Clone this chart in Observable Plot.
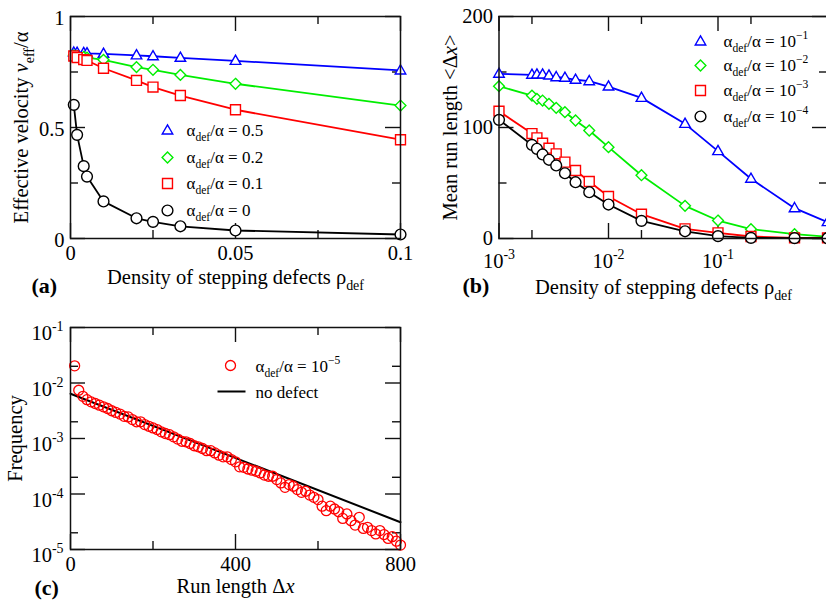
<!DOCTYPE html>
<html>
<head>
<meta charset="utf-8">
<script src="https://cdn.jsdelivr.net/npm/d3@7"></script>
<script src="https://cdn.jsdelivr.net/npm/@observablehq/plot@0.6"></script>
<style>
  html, body { margin: 0; padding: 0; background: #fff; }
  #fig { position: relative; width: 826px; height: 604px; overflow: hidden; background: #fff; }
  #fig svg { position: absolute; }
</style>
</head>
<body>
<div id="fig"></div>
<script>
// ---------------- Panel (a): effective velocity vs defect density ----------------
const rhoA   = [0.001, 0.002, 0.004, 0.005, 0.01, 0.02, 0.025, 0.0333, 0.05, 0.1];
const velA05 = [0.837, 0.836, 0.835, 0.834, 0.832, 0.825, 0.821, 0.814, 0.800, 0.757];
const velA02 = [0.825, 0.822, 0.818, 0.815, 0.805, 0.772, 0.760, 0.737, 0.697, 0.599];
const velA01 = [0.822, 0.815, 0.806, 0.802, 0.767, 0.712, 0.682, 0.644, 0.580, 0.445];
const velA00 = [0.602, 0.467, 0.326, 0.279, 0.167, 0.091, 0.075, 0.055, 0.036, 0.018];
const labelsA = ["α_{def}/α = 0.5", "α_{def}/α = 0.2", "α_{def}/α = 0.1", "α_{def}/α = 0"];
const xTicksA = [0, 0.05, 0.1], xMinorA = [0.025, 0.075];
const yTicksA = [0, 0.5, 1],    yMinorA = [0.25, 0.75];

// ---------------- Panel (b): mean run length vs defect density ----------------
const rhoB   = [0.001, 0.002, 0.00222, 0.0025, 0.00286, 0.00333, 0.004, 0.005, 0.00667, 0.01, 0.02, 0.05, 0.1, 0.2, 0.5, 1];
const lenB1 = [148.4, 147.5, 147.7, 147.7, 146.8, 145.3, 144.8, 143.0, 141.7, 136.9, 126.7, 103.3, 78.7, 53.8, 27.3, 14.7];
const lenB2 = [137.2, 128.8, 125.8, 124.3, 121.3, 117.7, 113.8, 106.3, 97.3, 82.3, 57.0, 29.4, 16.2, 8.4, 3.9, 1.5];
const lenB3 = [114.7, 94.5, 90.7, 85.9, 81.4, 76.3, 68.8, 61.3, 51.4, 37.8, 21.9, 8.7, 5.1, 1.8, 0.5, 0.5];
const lenB4 = [106.9, 84.3, 80.8, 75.7, 70.9, 65.8, 58.8, 50.7, 41.7, 30.6, 15.9, 6.5, 2.1, 0.6, 0.3, 0.2];
const labelsB = ["α_{def}/α = 10^{−1}", "α_{def}/α = 10^{−2}", "α_{def}/α = 10^{−3}", "α_{def}/α = 10^{−4}"];
const xTicksB = [0.001, 0.01, 0.1], xTicksB_all = [0.001, 0.01, 0.1, 1], xMinorB = [0.002, 0.02, 0.2];
const yTicksB = [0, 100, 200], yMinorB = [50, 150];

// ---------------- Panel (c): run length distribution ----------------
const runLen = [10, 20, 30, 40, 50, 60, 70, 80, 90, 100, 110, 120, 130, 140, 150, 160, 170, 180, 190, 200,
  210, 220, 230, 240, 250, 260, 270, 280, 290, 300, 310, 320, 330, 340, 350, 360, 370, 380, 390, 400,
  410, 420, 430, 440, 450, 460, 470, 480, 490, 500, 510, 520, 530, 540, 550, 560, 570, 580, 590, 600,
  610, 620, 630, 640, 650, 660, 670, 680, 690, 700, 710, 720, 730, 740, 750, 760, 770, 780, 790, 800];
const freqC = [2.04e-2, 7.41e-3, 5.75e-3, 5.01e-3, 4.57e-3, 4.27e-3, 3.98e-3, 3.72e-3, 3.47e-3, 3.16e-3,
  2.95e-3, 2.75e-3, 2.51e-3, 2.45e-3, 2.19e-3, 2.00e-3, 2.00e-3, 1.78e-3, 1.66e-3, 1.55e-3,
  1.45e-3, 1.32e-3, 1.23e-3, 1.17e-3, 1.07e-3, 9.77e-4, 8.91e-4, 8.71e-4, 8.13e-4, 7.41e-4,
  7.08e-4, 6.61e-4, 6.03e-4, 6.03e-4, 5.50e-4, 5.01e-4, 4.68e-4, 4.68e-4, 4.17e-4, 3.80e-4,
  3.09e-4, 3.02e-4, 2.82e-4, 2.69e-4, 2.57e-4, 2.40e-4, 2.19e-4, 2.09e-4, 2.09e-4, 1.82e-4,
  1.58e-4, 1.32e-4, 1.48e-4, 1.38e-4, 1.20e-4, 1.07e-4, 1.12e-4, 9.55e-5, 8.71e-5, 7.94e-5,
  6.03e-5, 5.01e-5, 6.03e-5, 5.37e-5, 4.79e-5, 3.63e-5, 4.37e-5, 3.31e-5, 2.75e-5, 3.80e-5,
  2.40e-5, 2.51e-5, 2.19e-5, 1.91e-5, 2.19e-5, 1.86e-5, 1.58e-5, 1.70e-5, 1.41e-5, 1.20e-5];
const noDefX = [0, 800];
const noDefF = [6.4e-3, 3.1e-5];
const labelsC = ["α_{def}/α = 10^{−5}", "no defect"];
const xTicksC = [0, 400, 800], xMinorC = [200, 600];
const yTicksC = [1e-5, 1e-4, 1e-3, 1e-2, 1e-1], yMinorC = [2e-5, 2e-4, 2e-3, 2e-2];

// ---------------- helpers ----------------
const FONT = "'Liberation Serif', 'Times New Roman', serif";
const SVGNS = "http://www.w3.org/2000/svg";
const symTri = {draw(c, size) { const r = Math.sqrt(size / Math.PI); const w = r * 1.95, h = r * 1.7;
  c.moveTo(0, -h * 0.62); c.lineTo(w / 2, h * 0.38); c.lineTo(-w / 2, h * 0.38); c.closePath(); }};
const symDia = {draw(c, size) { const r = Math.sqrt(size / Math.PI);
  c.moveTo(0, -r); c.lineTo(r, 0); c.lineTo(0, r); c.lineTo(-r, 0); c.closePath(); }};
const symSq = {draw(c, size) { const r = Math.sqrt(size / Math.PI) * 0.92; c.rect(-r, -r, 2 * r, 2 * r); }};
const symCirc = {draw(c, size) { const r = Math.sqrt(size / Math.PI); c.moveTo(r, 0); c.arc(0, 0, r, 0, 2 * Math.PI); c.closePath(); }};
const symDash = {draw(c, size) { c.moveTo(-14, 0); c.lineTo(14, 0); }};
const pow10 = d => `10^{${Math.round(Math.log10(d))}}`;

function tickRules(P, xMaj, xMin, yMaj, yMin) {
  const FW = P.w - P.ml - P.mr, FH = P.h - P.mt - P.mb, maj = 15, mn = 8;
  const s = {stroke: "#111", strokeWidth: 1.4};
  return [
    Plot.ruleX(xMaj, {x: d => d, insetTop: FH - maj, ...s}),
    Plot.ruleX(xMaj, {x: d => d, insetBottom: FH - maj, ...s}),
    Plot.ruleX(xMin, {x: d => d, insetTop: FH - mn, ...s}),
    Plot.ruleX(xMin, {x: d => d, insetBottom: FH - mn, ...s}),
    Plot.ruleY(yMaj, {y: d => d, insetRight: FW - maj, ...s}),
    Plot.ruleY(yMaj, {y: d => d, insetLeft: FW - maj, ...s}),
    Plot.ruleY(yMin, {y: d => d, insetRight: FW - mn, ...s}),
    Plot.ruleY(yMin, {y: d => d, insetLeft: FW - mn, ...s})
  ];
}
// position helper: page pixel -> offset from frame's top-left corner
const at = (P, x, y) => ({frameAnchor: "top-left", dx: x - P.left - P.ml, dy: y - P.top - P.mt});
const txt = (P, s, x, y, o = {}) => Plot.text([s], {text: d => d, ...at(P, x, y), lineAnchor: "bottom", fontSize: 20.5, ...o});

// rich text: _{sub}  ^{sup}  ~{italic}
function richText(svg) {
  svg.querySelectorAll("text").forEach(t => {
    const s = t.textContent;
    if (!/[_^~]\{/.test(s)) return;
    const fs = parseFloat(getComputedStyle(t).fontSize) || 20;
    const segs = []; let mode = "n", buf = "";
    for (let i = 0; i < s.length; i++) {
      const c = s[i];
      if ((c === "_" || c === "^" || c === "~") && s[i + 1] === "{") { if (buf) segs.push([mode, buf]); buf = ""; mode = c; i++; continue; }
      if (c === "}" && mode !== "n") { segs.push([mode, buf]); buf = ""; mode = "n"; continue; }
      buf += c;
    }
    if (buf) segs.push([mode, buf]);
    while (t.firstChild) t.removeChild(t.firstChild);
    let cur = 0;
    for (const [m, str] of segs) {
      const sp = document.createElementNS(SVGNS, "tspan");
      const target = m === "_" ? 0.32 * fs : m === "^" ? -0.42 * fs : 0;
      if (target !== cur) sp.setAttribute("dy", (target - cur).toFixed(2));
      cur = target;
      if (m === "_" || m === "^") sp.setAttribute("font-size", (0.68 * fs).toFixed(2));
      if (m === "~") sp.setAttribute("font-style", "italic");
      sp.textContent = str;
      t.appendChild(sp);
    }
  });
}
const fig = document.getElementById("fig");
function place(svg, P) {
  svg.style.left = P.left + "px"; svg.style.top = P.top + "px";
  fig.appendChild(svg);
  richText(svg);
}
const baseStyle = {fontFamily: FONT, background: "transparent", overflow: "visible", color: "#000"};

// ---------------- build (a) ----------------
{
  const P = {left: 0, top: 0, w: 410, h: 300, ml: 70, mr: 10, mt: 16, mb: 62};
  const series = [
    {v: velA05, c: "#0000ff", s: symTri}, {v: velA02, c: "#00ee00", s: symDia},
    {v: velA01, c: "#ff0000", s: symSq},  {v: velA00, c: "#000000", s: symCirc}
  ];
  const marks = [...tickRules(P, xTicksA, xMinorA, yTicksA, yMinorA)];
  series.forEach(sr => {
    marks.push(Plot.line(rhoA, {x: d => d, y: sr.v, stroke: sr.c, strokeWidth: 1.8}));
    marks.push(Plot.dot(rhoA, {x: d => d, y: sr.v, symbol: sr.s, r: 5.4, stroke: sr.c, strokeWidth: 1.4, fill: "white"}));
  });
  const legY = [130, 157, 183, 210];
  series.forEach((sr, i) => {
    marks.push(Plot.dot([0], {...at(P, 167, legY[i]), symbol: sr.s, r: 5.4, stroke: sr.c, strokeWidth: 1.4, fill: "white"}));
    marks.push(txt(P, labelsA[i], 186, legY[i] + 5, {fontSize: 17, textAnchor: "start"}));
  });
  marks.push(
    Plot.frame({stroke: "#111", strokeWidth: 1.5}),
    Plot.axisX({ticks: xTicksA, tickSize: 0, tickPadding: 7, fontSize: 20.5, tickFormat: d => String(d), label: null}),
    Plot.axisY({ticks: yTicksA, tickSize: 0, tickPadding: 6, fontSize: 20.5, tickFormat: d => String(d), label: null, dy: 2}),
    txt(P, "Density of stepping defects ρ_{def}", 235, 283, {textAnchor: "middle"}),
    txt(P, "Effective velocity ~{v}_{eff}/α", 27, 127, {textAnchor: "middle", rotate: -90}),
    txt(P, "(a)", 31, 292, {textAnchor: "start", fontSize: 22, fontWeight: "bold"})
  );
  const svg = Plot.plot({width: P.w, height: P.h, marginLeft: P.ml, marginRight: P.mr, marginTop: P.mt, marginBottom: P.mb,
    x: {domain: [0, 0.1]}, y: {domain: [0, 1]}, style: baseStyle, marks});
  place(svg, P);
}

// ---------------- build (b) ----------------
{
  const P = {left: 410, top: 0, w: 430, h: 300, ml: 88.5, mr: 13, mt: 16, mb: 62};
  const series = [
    {v: lenB1, c: "#0000ff", s: symTri}, {v: lenB2, c: "#00ee00", s: symDia},
    {v: lenB3, c: "#ff0000", s: symSq},  {v: lenB4, c: "#000000", s: symCirc}
  ];
  const marks = [...tickRules(P, xTicksB_all, xMinorB, yTicksB, yMinorB)];
  series.forEach(sr => {
    marks.push(Plot.line(rhoB, {x: d => d, y: sr.v, stroke: sr.c, strokeWidth: 1.8}));
    marks.push(Plot.dot(rhoB, {x: d => d, y: sr.v, symbol: sr.s, r: 5.4, stroke: sr.c, strokeWidth: 1.4, fill: "white"}));
  });
  const legY = [41, 65, 90, 116];
  series.forEach((sr, i) => {
    marks.push(Plot.dot([0], {...at(P, 700, legY[i]), symbol: sr.s, r: 5.4, stroke: sr.c, strokeWidth: 1.4, fill: "white"}));
    marks.push(txt(P, labelsB[i], 723, legY[i] + 5, {fontSize: 17, textAnchor: "start"}));
  });
  marks.push(
    Plot.frame({stroke: "#111", strokeWidth: 1.5}),
    Plot.axisX({ticks: xTicksB, tickSize: 0, tickPadding: 15, fontSize: 20.5, tickFormat: pow10, label: null}),
    Plot.axisY({ticks: yTicksB, tickSize: 0, tickPadding: 6, fontSize: 20.5, tickFormat: d => String(d), label: null, dy: 0}),
    txt(P, "Density of stepping defects ρ_{def}", 663, 293, {textAnchor: "middle"}),
    txt(P, "Mean run length <Δ~{x}>", 456, 127, {textAnchor: "middle", rotate: -90}),
    txt(P, "(b)", 462, 292, {textAnchor: "start", fontSize: 22, fontWeight: "bold"})
  );
  const svg = Plot.plot({width: P.w, height: P.h, marginLeft: P.ml, marginRight: P.mr, marginTop: P.mt, marginBottom: P.mb,
    x: {type: "log", domain: [1e-3, 1]}, y: {domain: [0, 200]}, style: baseStyle, marks});
  place(svg, P);
}

// ---------------- build (c) ----------------
{
  const P = {left: 0, top: 300, w: 410, h: 304, ml: 70, mr: 10, mt: 27, mb: 55};
  const marks = [...tickRules(P, xTicksC, xMinorC, yTicksC, yMinorC)];
  marks.push(
    Plot.line(noDefX, {x: d => d, y: noDefF, stroke: "#000", strokeWidth: 2}),
    Plot.dot(runLen, {x: d => d, y: freqC, symbol: symCirc, r: 5, stroke: "#ff0000", strokeWidth: 1.3, fill: "none"}),
    Plot.dot([0], {...at(P, 230, 365), symbol: symCirc, r: 5, stroke: "#ff0000", strokeWidth: 1.3, fill: "none"}),
    txt(P, labelsC[0], 255, 371, {fontSize: 17, textAnchor: "start"}),
    Plot.dot([0], {...at(P, 231, 391), symbol: symDash, r: 5, stroke: "#000", strokeWidth: 2, fill: "none"}),
    txt(P, labelsC[1], 255, 397, {fontSize: 17, textAnchor: "start"}),
    Plot.frame({stroke: "#111", strokeWidth: 1.5}),
    Plot.axisX({ticks: xTicksC, tickSize: 0, tickPadding: 7, fontSize: 20.5, tickFormat: d => String(d), label: null}),
    Plot.axisY({ticks: yTicksC, tickSize: 0, tickPadding: 7, fontSize: 20.5, tickFormat: pow10, label: null, dy: 6}),
    txt(P, "Run length Δ~{x}", 235, 592, {textAnchor: "middle"}),
    txt(P, "Frequency", 21, 438, {textAnchor: "middle", rotate: -90}),
    txt(P, "(c)", 34, 594, {textAnchor: "start", fontSize: 22, fontWeight: "bold"})
  );
  const svg = Plot.plot({width: P.w, height: P.h, marginLeft: P.ml, marginRight: P.mr, marginTop: P.mt, marginBottom: P.mb,
    x: {domain: [0, 800]}, y: {type: "log", domain: [1e-5, 1e-1]}, style: baseStyle, marks});
  place(svg, P);
}
</script>
</body>
</html>
